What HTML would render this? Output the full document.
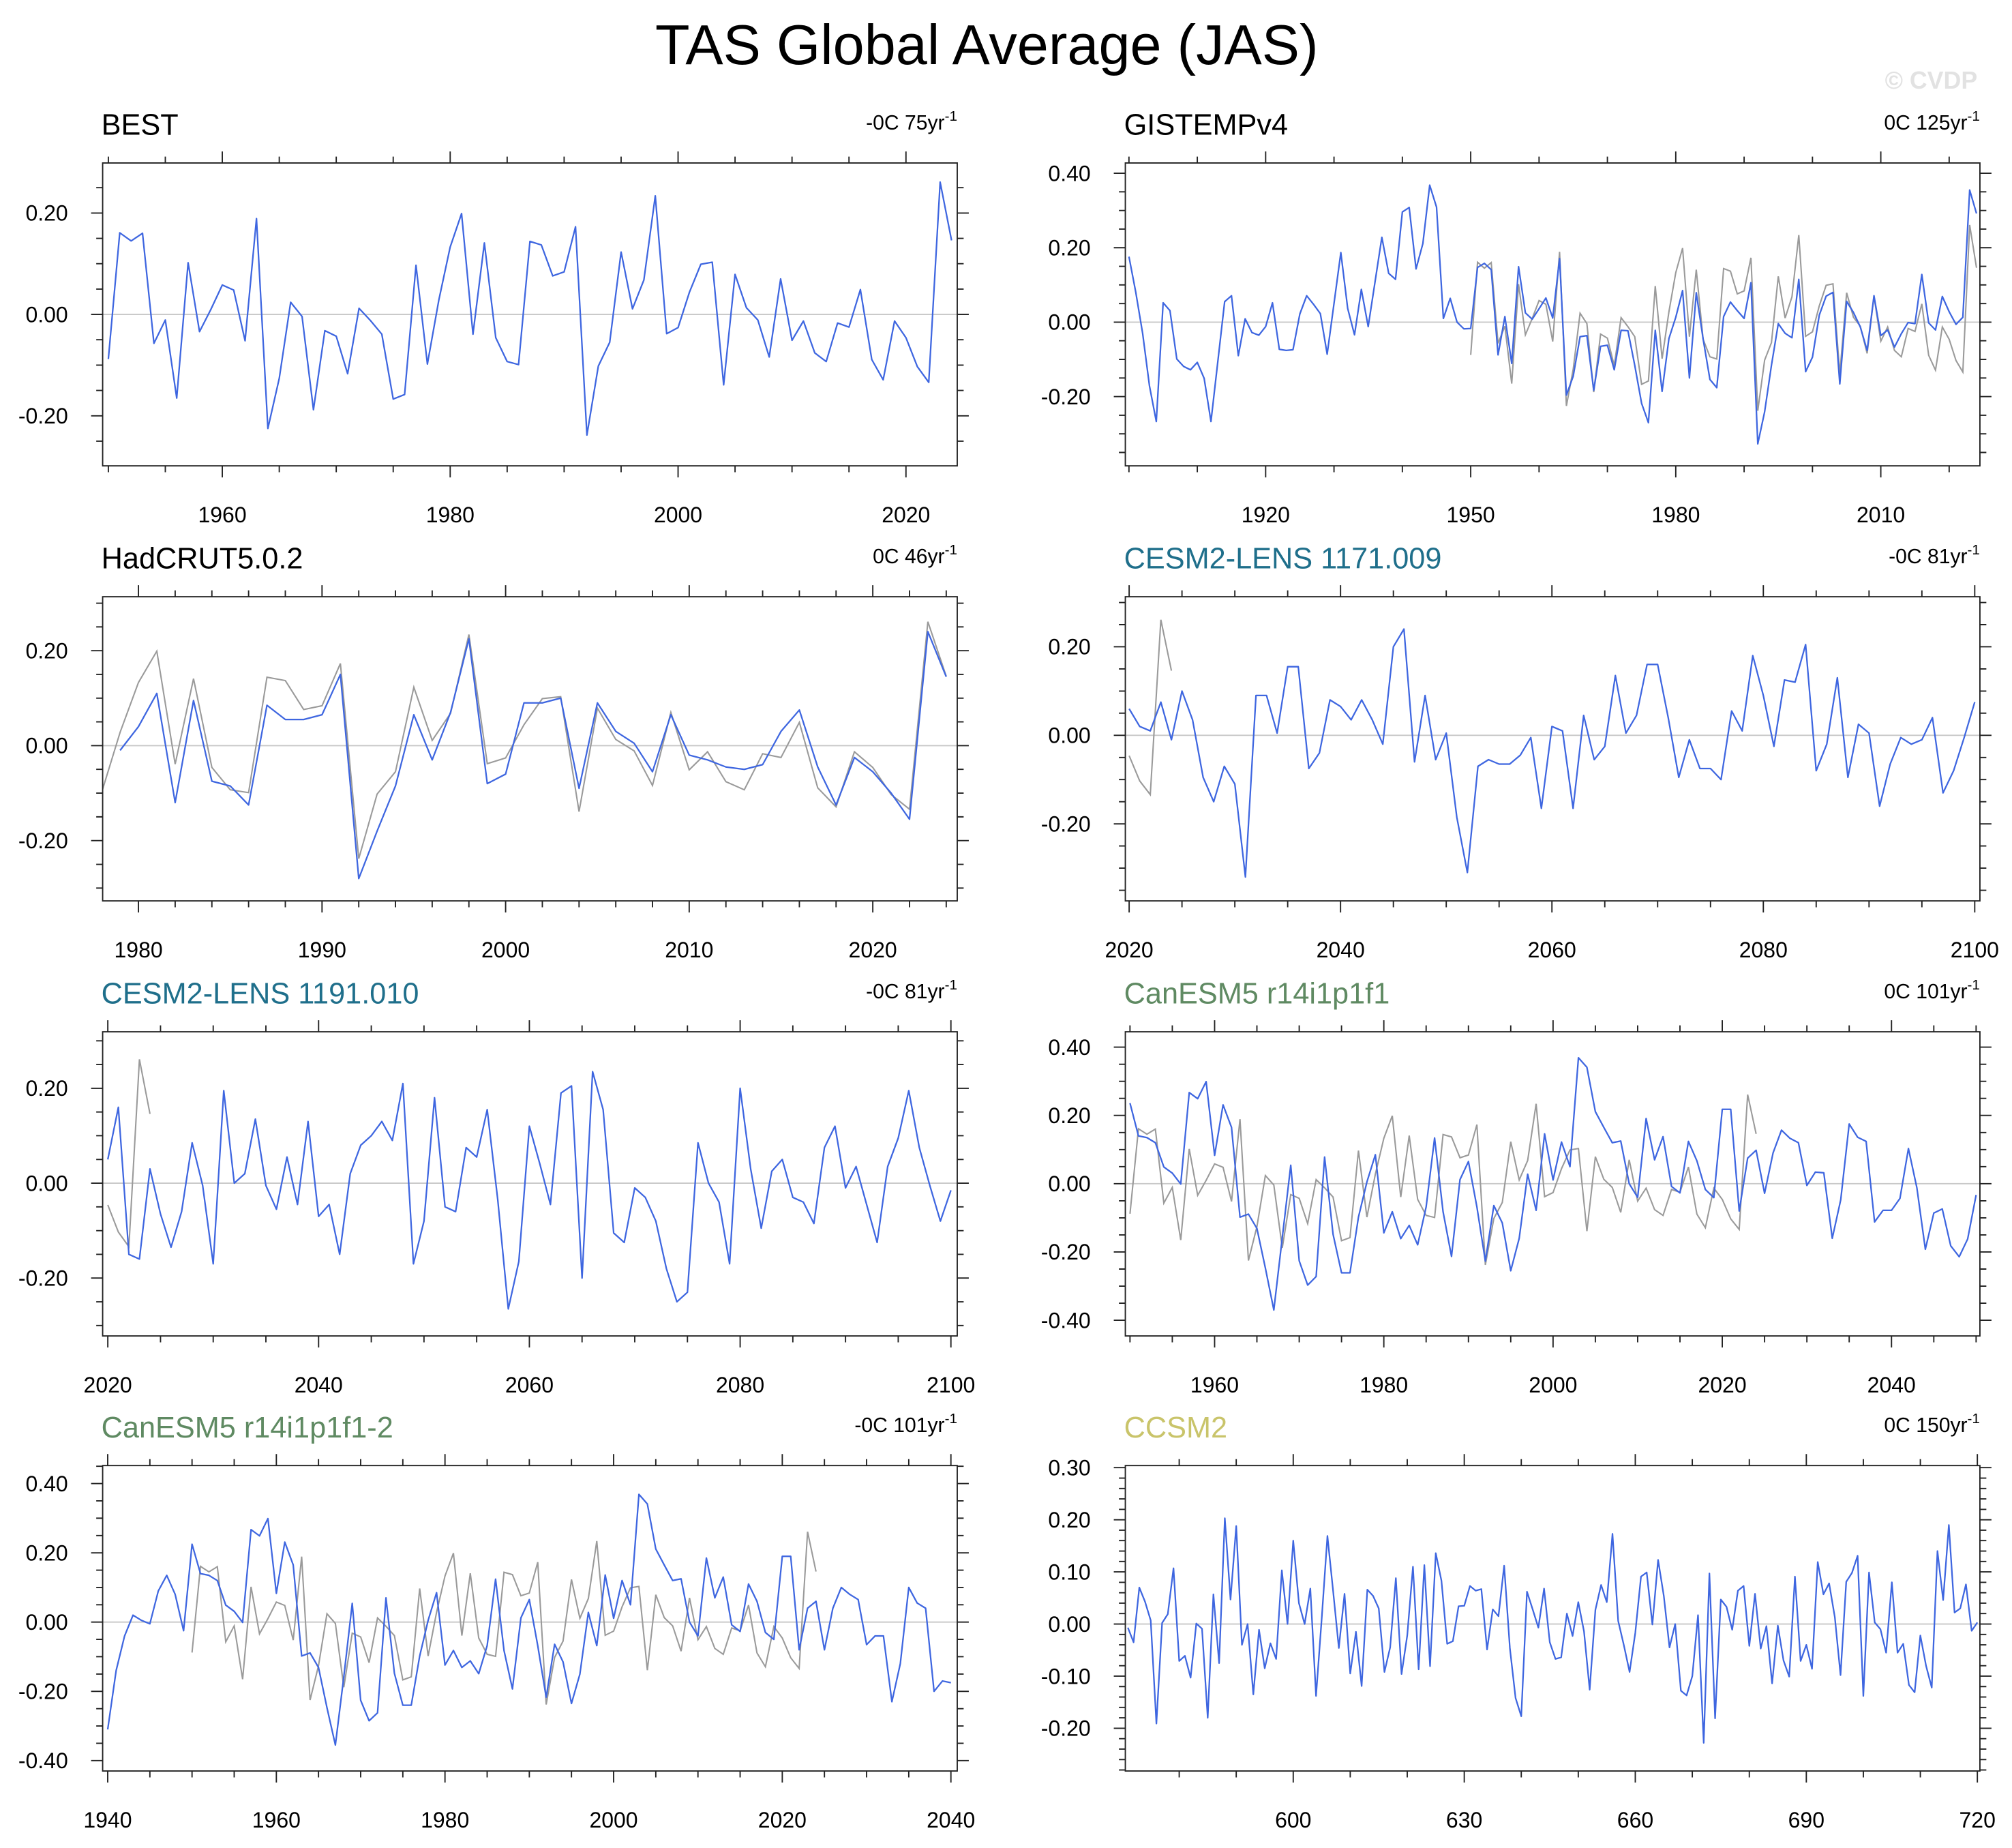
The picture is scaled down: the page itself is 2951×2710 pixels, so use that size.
<!DOCTYPE html>
<html><head><meta charset="utf-8"><title>TAS Global Average (JAS)</title>
<style>html,body{margin:0;padding:0;background:#fff;}svg{display:block;}</style>
</head><body>
<svg id="chart" xmlns="http://www.w3.org/2000/svg" width="2951" height="2710" viewBox="0 0 1568 1440" preserveAspectRatio="none" font-family="'Liberation Sans', sans-serif">
<rect x="0" y="0" width="1568" height="1440" fill="#fff"/>
<text x="769" y="50" font-size="44" text-anchor="middle" fill="#000">TAS Global Average (JAS)</text>
<text x="1541" y="69" font-size="19" font-weight="bold" text-anchor="end" fill="#e2e2e2">© CVDP</text>
</svg>
<script>
const bestValues=[-0.088,0.161,0.145,0.160,-0.057,-0.011,-0.165,0.102,-0.034,0.010,0.058,0.048,-0.052,0.189,-0.225,-0.126,0.024,-0.004,-0.188,-0.032,-0.043,-0.117,0.012,-0.012,-0.039,-0.167,-0.158,0.097,-0.098,0.028,0.133,0.199,-0.039,0.141,-0.046,-0.093,-0.099,0.144,0.137,0.076,0.084,0.173,-0.238,-0.102,-0.055,0.123,0.011,0.068,0.234,-0.038,-0.026,0.044,0.099,0.103,-0.139,0.079,0.013,-0.011,-0.084,0.070,-0.051,-0.013,-0.076,-0.093,-0.017,-0.025,0.049,-0.089,-0.129,-0.013,-0.046,-0.103,-0.134,0.261,0.146];
const bestStart=1950;
const gistempValues=[0.176,0.080,-0.030,-0.171,-0.267,0.052,0.031,-0.099,-0.119,-0.128,-0.108,-0.151,-0.267,-0.106,0.055,0.071,-0.090,0.009,-0.028,-0.035,-0.012,0.052,-0.073,-0.076,-0.074,0.022,0.071,0.048,0.023,-0.086,0.050,0.187,0.037,-0.034,0.088,-0.012,0.108,0.228,0.131,0.115,0.296,0.308,0.143,0.211,0.368,0.309,0.010,0.064,0.000,-0.018,-0.017,0.147,0.158,0.141,-0.088,0.015,-0.111,0.149,0.025,0.008,0.036,0.065,0.011,0.171,-0.196,-0.145,-0.039,-0.036,-0.183,-0.065,-0.062,-0.128,-0.022,-0.023,-0.116,-0.218,-0.270,-0.022,-0.186,-0.044,0.013,0.085,-0.150,0.079,-0.045,-0.154,-0.176,0.015,0.054,0.031,0.010,0.106,-0.327,-0.241,-0.116,-0.004,-0.030,-0.042,0.115,-0.133,-0.094,0.019,0.070,0.080,-0.166,0.056,0.026,-0.013,-0.076,0.071,-0.036,-0.021,-0.067,-0.031,-0.001,-0.004,0.128,-0.002,-0.021,0.069,0.028,-0.006,0.013,0.355,0.292];
const gistempStart=1900;
const hadcrutValues=[-0.010,0.040,0.110,-0.120,0.095,-0.075,-0.085,-0.125,0.085,0.055,0.055,0.065,0.150,-0.280,-0.180,-0.085,0.065,-0.030,0.070,0.225,-0.080,-0.060,0.090,0.090,0.100,-0.090,0.090,0.030,0.005,-0.055,0.065,-0.020,-0.030,-0.045,-0.050,-0.040,0.030,0.075,-0.045,-0.125,-0.025,-0.055,-0.100,-0.155,0.240,0.145];
const hadcrutStart=1979;
const cesm1171Values=[0.060,0.020,0.010,0.075,-0.010,0.100,0.035,-0.095,-0.150,-0.070,-0.110,-0.320,0.090,0.090,0.005,0.155,0.155,-0.075,-0.040,0.080,0.065,0.035,0.080,0.035,-0.020,0.200,0.240,-0.060,0.090,-0.055,0.005,-0.185,-0.310,-0.070,-0.055,-0.065,-0.065,-0.045,-0.005,-0.165,0.020,0.010,-0.165,0.045,-0.055,-0.025,0.135,0.005,0.045,0.160,0.160,0.040,-0.095,-0.010,-0.075,-0.075,-0.100,0.055,0.010,0.180,0.090,-0.025,0.125,0.120,0.205,-0.080,-0.020,0.130,-0.095,0.025,0.005,-0.160,-0.065,-0.005,-0.020,-0.010,0.040,-0.130,-0.080,-0.005,0.075];
const cesm1171Start=2020;
const cesm1191Values=[0.050,0.160,-0.150,-0.160,0.030,-0.065,-0.135,-0.060,0.085,-0.005,-0.170,0.195,0.000,0.020,0.135,-0.005,-0.055,0.055,-0.045,0.130,-0.070,-0.045,-0.150,0.020,0.080,0.100,0.130,0.090,0.210,-0.170,-0.080,0.180,-0.050,-0.060,0.075,0.055,0.155,-0.035,-0.265,-0.165,0.120,0.040,-0.045,0.190,0.205,-0.200,0.235,0.155,-0.105,-0.125,-0.010,-0.030,-0.080,-0.180,-0.250,-0.230,0.085,0.000,-0.040,-0.170,0.200,0.030,-0.095,0.025,0.050,-0.030,-0.040,-0.085,0.075,0.120,-0.010,0.035,-0.045,-0.125,0.035,0.095,0.195,0.075,-0.005,-0.080,-0.015];
const cesm1191Start=2020;
const canesmValues=[0.236,0.140,0.135,0.120,0.049,0.031,-0.001,0.267,0.249,0.299,0.083,0.231,0.165,-0.098,-0.089,-0.131,-0.247,-0.370,-0.158,0.054,-0.226,-0.297,-0.272,0.078,-0.148,-0.261,-0.261,-0.098,0.005,0.085,-0.144,-0.082,-0.161,-0.122,-0.179,-0.068,0.134,-0.082,-0.213,0.012,0.065,-0.068,-0.227,-0.064,-0.115,-0.255,-0.160,0.028,-0.078,0.146,0.011,0.122,0.050,0.369,0.341,0.211,0.165,0.120,0.125,0.000,-0.040,0.191,0.070,0.138,-0.008,-0.027,0.124,0.067,-0.017,-0.041,0.218,0.218,-0.080,0.075,0.098,-0.028,0.090,0.157,0.133,0.120,-0.005,0.034,0.032,-0.160,-0.047,0.175,0.136,0.124,-0.112,-0.078,-0.078,-0.043,0.103,-0.012,-0.192,-0.086,-0.074,-0.182,-0.214,-0.162,-0.033];
const canesmStart=1950;
const canesm2Values=[-0.310,-0.140,-0.040,0.020,0.005,-0.005,0.090,0.135,0.080,-0.025,0.225,0.140,0.135,0.120,0.049,0.031,-0.001,0.267,0.249,0.299,0.083,0.231,0.165,-0.098,-0.089,-0.131,-0.247,-0.355,-0.158,0.054,-0.226,-0.285,-0.262,0.070,-0.148,-0.240,-0.240,-0.098,0.005,0.085,-0.124,-0.082,-0.131,-0.112,-0.149,-0.068,0.124,-0.082,-0.193,0.012,0.065,-0.068,-0.217,-0.064,-0.115,-0.235,-0.150,0.028,-0.068,0.136,0.011,0.120,0.050,0.369,0.341,0.211,0.165,0.120,0.125,0.000,-0.040,0.185,0.070,0.130,-0.008,-0.027,0.110,0.060,-0.030,-0.050,0.190,0.190,-0.080,0.040,0.060,-0.080,0.040,0.100,0.080,0.065,-0.065,-0.040,-0.040,-0.230,-0.120,0.100,0.055,0.040,-0.200,-0.170,-0.175];
const canesm2Start=1940;
const ccsm2Values=[-0.007,-0.035,0.070,0.043,0.007,-0.191,0.002,0.019,0.107,-0.071,-0.061,-0.103,0.001,-0.009,-0.180,0.057,-0.075,0.203,0.047,0.188,-0.040,0.000,-0.135,-0.011,-0.085,-0.037,-0.067,0.103,0.000,0.160,0.040,0.000,0.068,-0.138,0.011,0.169,0.063,-0.046,0.058,-0.095,-0.015,-0.119,0.066,0.054,0.030,-0.092,-0.045,0.088,-0.096,-0.022,0.110,-0.087,0.113,-0.081,0.136,0.083,-0.038,-0.033,0.034,0.035,0.073,0.064,0.067,-0.049,0.028,0.015,0.112,-0.046,-0.142,-0.177,0.062,0.028,-0.007,0.068,-0.035,-0.067,-0.064,0.020,-0.023,0.042,-0.014,-0.126,0.027,0.075,0.042,0.173,0.006,-0.041,-0.092,-0.017,0.091,0.099,-0.001,0.123,0.054,-0.045,0.000,-0.128,-0.137,-0.100,0.017,-0.228,0.097,-0.181,0.047,0.033,-0.011,0.064,0.073,-0.042,0.058,-0.047,-0.004,-0.114,-0.003,-0.070,-0.101,0.091,-0.071,-0.040,-0.086,0.119,0.057,0.078,0.013,-0.098,0.081,0.098,0.131,-0.138,0.099,0.003,-0.010,-0.055,0.080,-0.055,-0.038,-0.117,-0.131,-0.022,-0.080,-0.122,0.140,0.046,0.190,0.022,0.030,0.076,-0.013,0.003];
const ccsm2Start=571;
const panelTitles=["BEST","GISTEMPv4","HadCRUT5.0.2","CESM2-LENS 1171.009","CESM2-LENS 1191.010","CanESM5 r14i1p1f1","CanESM5 r14i1p1f1-2","CCSM2"];
const trendLabels=["-0C 75yr","0C 125yr","0C 46yr","-0C 81yr","-0C 81yr","0C 101yr","-0C 101yr","0C 150yr"];

const NS="http://www.w3.org/2000/svg";
const svg=document.getElementById('chart');
function mk(tag,attrs,parent){const e=document.createElementNS(NS,tag);for(const k in attrs)e.setAttribute(k,attrs[k]);(parent||svg).appendChild(e);return e;}

const panels=[
 {key:"best",title:0,color:"#000",box:[80,127,746,363],xd:[1949.5,2024.5],yd:[-0.2987,0.2987],xt:[1960,2020,20],xm:5,yt:[-0.2,0.2,0.2],ym:0.05,main:[bestValues,bestStart],gray:null},
 {key:"gistemp",title:1,color:"#000",box:[877,127,1543,363],xd:[1899.47,2024.5],yd:[-0.386,0.4276],xt:[1920,2010,30],xm:10,yt:[-0.2,0.4,0.2],ym:0.05,main:[gistempValues,gistempStart],gray:[0,75]},
 {key:"hadcrut",title:2,color:"#000",box:[80,465,746,702],xd:[1978.05,2024.6],yd:[-0.327,0.3135],xt:[1980,2020,10],xm:2,yt:[-0.2,0.2,0.2],ym:0.05,main:[hadcrutValues,hadcrutStart],gray:[28,75]},
 {key:"cesm1171",title:3,color:"#1f6f8b",box:[877,465,1543,702],xd:[2019.64,2100.49],yd:[-0.374,0.313],xt:[2020,2100,20],xm:5,yt:[-0.2,0.2,0.2],ym:0.05,main:[cesm1171Values,cesm1171Start],gray:[70,75]},
 {key:"cesm1191",title:4,color:"#1f6f8b",box:[80,804,746,1041],xd:[2019.51,2100.6],yd:[-0.322,0.319],xt:[2020,2100,20],xm:5,yt:[-0.2,0.2,0.2],ym:0.05,main:[cesm1191Values,cesm1191Start],gray:[70,75]},
 {key:"canesm5",title:5,color:"#5f8a62",box:[877,804,1543,1041],xd:[1949.45,2050.45],yd:[-0.446,0.445],xt:[1960,2040,20],xm:5,yt:[-0.4,0.4,0.2],ym:0.05,main:[canesmValues,canesmStart],gray:[0,75]},
 {key:"canesm5-2",title:6,color:"#5f8a62",box:[80,1142,746,1380],xd:[1939.4,2040.75],yd:[-0.43,0.452],xt:[1940,2040,20],xm:5,yt:[-0.4,0.4,0.2],ym:0.05,main:[canesm2Values,canesm2Start],gray:[0,75]},
 {key:"ccsm2",title:7,color:"#c9c46a",box:[877,1142,1543,1380],xd:[570.55,720.45],yd:[-0.282,0.304],xt:[600,720,30],xm:10,yt:[-0.2,0.3,0.1],ym:0.02,main:[ccsm2Values,ccsm2Start],gray:null}
];

panels.forEach((p,pi)=>{
 const [x0,y0,x1,y1]=p.box;
 const g=mk('g',{});
 
 
 const xs=v=>x0+(v-p.xd[0])/(p.xd[1]-p.xd[0])*(x1-x0);
 const ys=v=>y1-(v-p.yd[0])/(p.yd[1]-p.yd[0])*(y1-y0);
 const cid='clip'+pi;
 const cp=mk('clipPath',{id:cid},g);
 mk('rect',{x:x0,y:y0,width:x1-x0,height:y1-y0},cp);
 const zl=mk('line',{x1:x0,x2:x1,y1:ys(0),y2:ys(0),stroke:"#c8c8c8","stroke-width":1},g);
 
 
 if(p.gray){
  const pts=[];
  for(let i=p.gray[0];i<p.gray[1];i++){pts.push(xs(bestStart+i).toFixed(2)+","+ys(bestValues[i]).toFixed(2));}
  const gl=mk('polyline',{points:pts.join(" "),fill:"none",stroke:"#9a9a9a","stroke-width":1.1,"clip-path":"url(#"+cid+")"},g);
  
  
 }
 const [vals,start]=p.main;
 const pts=vals.map((v,i)=>xs(start+i).toFixed(2)+","+ys(v).toFixed(2));
 const ml=mk('polyline',{points:pts.join(" "),fill:"none",stroke:"#3e66e0","stroke-width":1.2,"stroke-linejoin":"round","clip-path":"url(#"+cid+")"},g);
 
 
 const fr=mk('rect',{x:x0,y:y0,width:x1-x0,height:y1-y0,fill:"none",stroke:"#222","stroke-width":1},g);
 
 
 let tk="";
 const eps=1e-6;
 const ymStart=Math.ceil((p.yd[0]-eps)/p.ym)*p.ym;
 for(let v=ymStart;v<=p.yd[1]+eps;v+=p.ym){
  const y=ys(v);
  const isMaj=Math.abs(v/p.yt[2]-Math.round(v/p.yt[2]))<1e-4;
  const L=isMaj?9:5;
  tk+=`M${x0},${y.toFixed(2)}h${-L}M${x1},${y.toFixed(2)}h${L}`;
 }
 for(let v=Math.ceil(p.xd[0]/p.xm)*p.xm;v<=p.xd[1];v+=p.xm){
  const x=xs(v);
  const isMaj=((v-p.xt[0])%p.xt[2]+p.xt[2])%p.xt[2]===0;
  const L=isMaj?9:5;
  tk+=`M${x.toFixed(2)},${y1}v${L}M${x.toFixed(2)},${y0}v${-L}`;
 }
 const tp=mk('path',{d:tk,stroke:"#222","stroke-width":1,fill:"none"},g);
 
 
 for(let v=p.yt[0];v<=p.yt[1]+eps;v+=p.yt[2]){
  const vv=Math.abs(v)<1e-9?0:v;
  const t=mk('text',{x:x0-27,y:(ys(vv)+6).toFixed(2),"font-size":17,"text-anchor":"end",fill:"#000"},g);
  t.textContent=vv.toFixed(2);
  
  
 }
 for(let v=p.xt[0];v<=p.xt[1];v+=p.xt[2]){
  const t=mk('text',{x:xs(v).toFixed(2),y:y1+44,"font-size":17,"text-anchor":"middle",fill:"#000"},g);
  t.textContent=String(v);
  
  
 }
 const tt=mk('text',{x:x0-1,y:y0-22,"font-size":23,fill:p.color},g);
 tt.textContent=panelTitles[p.title];
 
 
 const tr=mk('text',{x:x1,y:y0-26,"font-size":16,"text-anchor":"end",fill:"#000"},g);
 tr.textContent=trendLabels[p.title];
 const sup=mk('tspan',{dy:-7,"font-size":11},tr);
 sup.textContent="-1";
 
 
});
</script>
</body></html>
